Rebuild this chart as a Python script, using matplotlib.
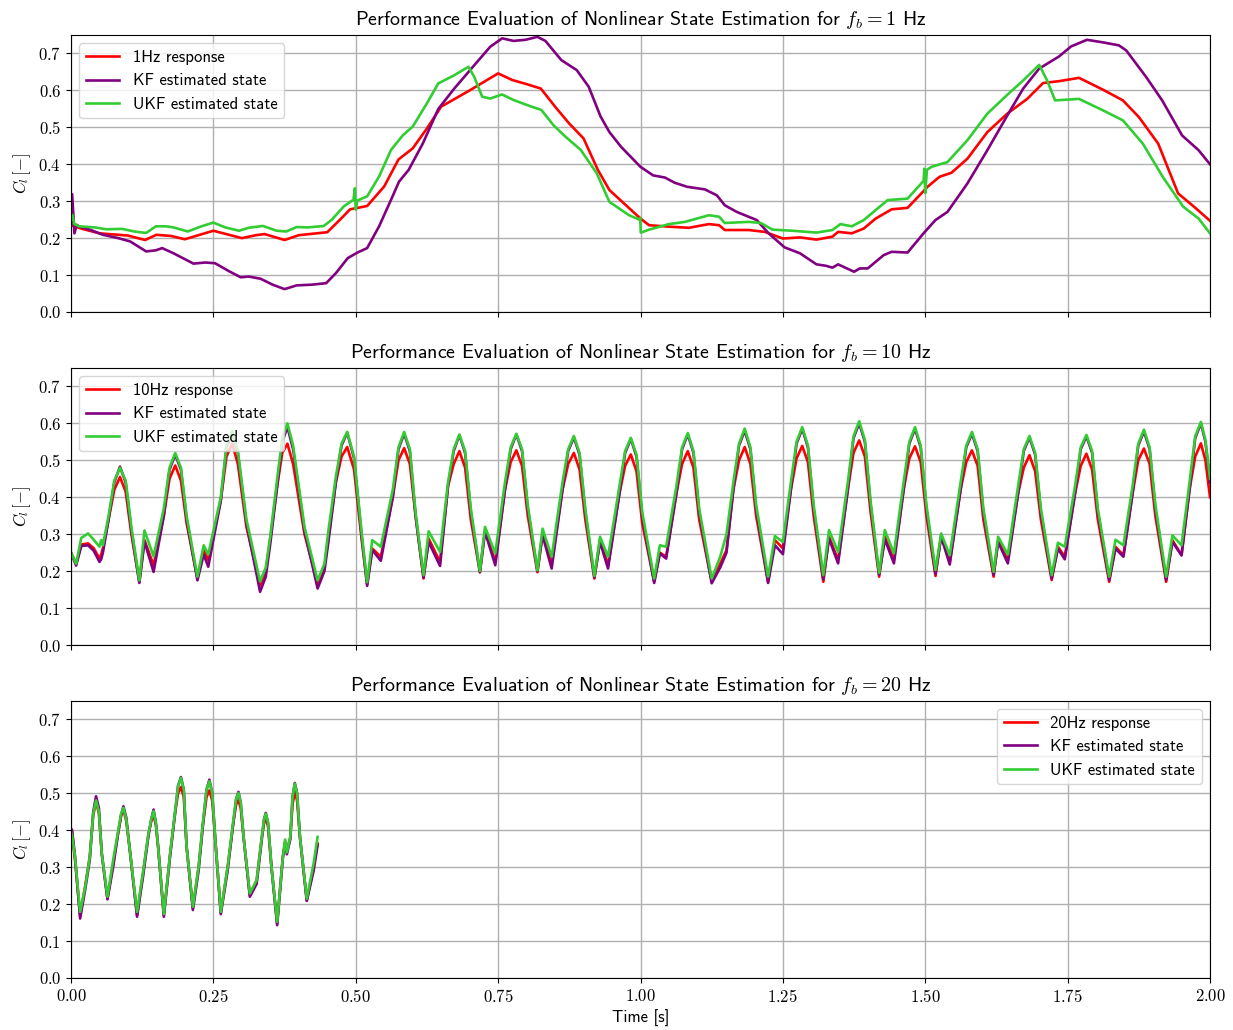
import matplotlib
matplotlib.use("Agg")
import matplotlib.pyplot as plt
from matplotlib.ticker import FuncFormatter

plt.rcParams['mathtext.fontset'] = 'cm'
plt.rcParams['font.family'] = ['cmss10', 'DejaVu Sans']
plt.rcParams['axes.unicode_minus'] = False

# ---------------- Panel 1 : f_b = 1 Hz ----------------
p1_red_t = [0.0, 0.02, 0.05, 0.1, 0.13, 0.15, 0.175, 0.2, 0.25, 0.3, 0.325, 0.34, 0.375, 0.4, 0.45,
            0.475, 0.49, 0.52, 0.55, 0.575, 0.6, 0.625, 0.65, 0.7, 0.75, 0.775, 0.8, 0.825, 0.85,
            0.875, 0.9, 0.925, 0.9455, 1.0, 1.015, 1.05, 1.085, 1.12, 1.138, 1.148, 1.19, 1.218,
            1.25, 1.28, 1.309, 1.337, 1.347, 1.371, 1.392, 1.413, 1.441, 1.469, 1.49, 1.504, 1.525,
            1.546, 1.574, 1.609, 1.644, 1.679, 1.707, 1.735, 1.77, 1.812, 1.847, 1.875, 1.909,
            1.944, 1.972, 2.0]
p1_red = [0.235, 0.225, 0.213, 0.207, 0.195, 0.209, 0.206, 0.197, 0.22, 0.20, 0.208, 0.211, 0.195,
          0.208, 0.216, 0.254, 0.278, 0.287, 0.34, 0.413, 0.443, 0.497, 0.556, 0.60, 0.646, 0.628,
          0.617, 0.605, 0.556, 0.51, 0.47, 0.385, 0.33, 0.253, 0.235, 0.231, 0.228, 0.238, 0.235,
          0.222, 0.222, 0.217, 0.199, 0.202, 0.196, 0.204, 0.217, 0.213, 0.226, 0.253, 0.278,
          0.282, 0.316, 0.339, 0.366, 0.377, 0.415, 0.487, 0.537, 0.577, 0.62, 0.625, 0.634,
          0.602, 0.573, 0.528, 0.456, 0.321, 0.285, 0.247]

p1_kf_t = [0.0, 0.002, 0.006, 0.01, 0.014, 0.035, 0.056, 0.083, 0.104, 0.132, 0.149, 0.16, 0.18,
           0.215, 0.236, 0.253, 0.278, 0.298, 0.312, 0.333, 0.354, 0.375, 0.396, 0.423, 0.448,
           0.465, 0.486, 0.503, 0.52, 0.541, 0.562, 0.576, 0.593, 0.618, 0.645, 0.673, 0.708,
           0.736, 0.757, 0.777, 0.798, 0.819, 0.833, 0.861, 0.888, 0.909, 0.93, 0.9455, 0.966,
           1.0, 1.022, 1.043, 1.06, 1.082, 1.113, 1.134, 1.148, 1.169, 1.204, 1.225, 1.253, 1.28,
           1.309, 1.326, 1.337, 1.347, 1.375, 1.385, 1.399, 1.427, 1.441, 1.469, 1.497, 1.518,
           1.539, 1.574, 1.609, 1.644, 1.672, 1.7, 1.735, 1.756, 1.784, 1.812, 1.84, 1.853,
           1.888, 1.916, 1.951, 1.98, 2.0]
p1_kf = [0.24, 0.319, 0.213, 0.236, 0.232, 0.222, 0.209, 0.2, 0.191, 0.164, 0.167, 0.173, 0.159,
         0.131, 0.134, 0.132, 0.11, 0.094, 0.096, 0.09, 0.074, 0.062, 0.072, 0.074, 0.078, 0.105,
         0.146, 0.161, 0.173, 0.232, 0.304, 0.353, 0.385, 0.457, 0.55, 0.605, 0.668, 0.718,
         0.741, 0.734, 0.737, 0.745, 0.734, 0.682, 0.655, 0.61, 0.529, 0.487, 0.447, 0.393,
         0.37, 0.364, 0.35, 0.339, 0.332, 0.316, 0.289, 0.271, 0.249, 0.213, 0.175, 0.159,
         0.129, 0.125, 0.12, 0.129, 0.109, 0.118, 0.118, 0.154, 0.163, 0.161, 0.213, 0.249,
         0.271, 0.348, 0.438, 0.532, 0.605, 0.659, 0.692, 0.719, 0.737, 0.73, 0.722, 0.708,
         0.636, 0.573, 0.478, 0.438, 0.40]

p1_ukf_t = [0.0, 0.002, 0.006, 0.014, 0.042, 0.062, 0.09, 0.111, 0.132, 0.149, 0.167, 0.18, 0.205,
            0.229, 0.25, 0.271, 0.295, 0.312, 0.337, 0.361, 0.378, 0.396, 0.416, 0.444, 0.458,
            0.479, 0.496, 0.4985, 0.5, 0.503, 0.52, 0.541, 0.562, 0.583, 0.6, 0.625, 0.645,
            0.673, 0.698, 0.708, 0.722, 0.736, 0.757, 0.777, 0.805, 0.826, 0.847, 0.868, 0.895,
            0.923, 0.9455, 0.98, 0.998, 0.9995, 1.0005, 1.015, 1.05, 1.078, 1.12, 1.138, 1.148,
            1.19, 1.211, 1.232, 1.267, 1.309, 1.337, 1.351, 1.371, 1.392, 1.413, 1.434, 1.469,
            1.497, 1.4985, 1.5, 1.503, 1.511, 1.539, 1.574, 1.609, 1.644, 1.672, 1.7, 1.714,
            1.728, 1.77, 1.812, 1.847, 1.882, 1.917, 1.953, 1.98, 2.0]
p1_ukf = [0.25, 0.263, 0.238, 0.232, 0.229, 0.224, 0.225, 0.218, 0.214, 0.232, 0.232, 0.229, 0.218,
          0.232, 0.242, 0.229, 0.22, 0.228, 0.233, 0.22, 0.218, 0.23, 0.229, 0.233, 0.25, 0.286,
          0.304, 0.335, 0.277, 0.302, 0.313, 0.367, 0.439, 0.479, 0.502, 0.565, 0.619, 0.641,
          0.664, 0.637, 0.583, 0.578, 0.589, 0.574, 0.558, 0.547, 0.506, 0.475, 0.439, 0.376,
          0.298, 0.262, 0.25, 0.255, 0.215, 0.223, 0.238, 0.244, 0.262, 0.258, 0.241, 0.244,
          0.241, 0.223, 0.22, 0.215, 0.222, 0.238, 0.232, 0.249, 0.276, 0.303, 0.307, 0.355,
          0.388, 0.322, 0.385, 0.393, 0.406, 0.465, 0.537, 0.588, 0.627, 0.669, 0.627, 0.573,
          0.577, 0.546, 0.519, 0.456, 0.366, 0.285, 0.253, 0.213]

# ---------------- Panel 2 : f_b = 10 Hz ----------------
p2_t = [0.0, 0.009, 0.018, 0.03, 0.04, 0.05, 0.053, 0.056, 0.066, 0.076, 0.086, 0.096, 0.106,
        0.12, 0.129, 0.145, 0.163, 0.173, 0.183, 0.193, 0.203,
        0.222, 0.233, 0.241, 0.263, 0.273, 0.283, 0.293, 0.308,
        0.332, 0.342, 0.35, 0.362, 0.371, 0.38, 0.39, 0.41,
        0.433, 0.445, 0.452, 0.465, 0.475, 0.485, 0.497, 0.51,
        0.52, 0.529, 0.544, 0.565, 0.575, 0.585, 0.595, 0.605,
        0.619, 0.628, 0.648, 0.662, 0.672, 0.682, 0.692, 0.702,
        0.718, 0.727, 0.745, 0.762, 0.772, 0.782, 0.792, 0.802,
        0.819, 0.828, 0.844, 0.863, 0.873, 0.883, 0.893, 0.903,
        0.919, 0.929, 0.943, 0.963, 0.973, 0.983, 0.993, 1.003,
        1.024, 1.034, 1.045, 1.063, 1.073, 1.083, 1.093, 1.103,
        1.125, 1.14, 1.151, 1.163, 1.173, 1.183, 1.193, 1.203,
        1.224, 1.236, 1.25, 1.264, 1.274, 1.284, 1.294, 1.304,
        1.321, 1.331, 1.347, 1.364, 1.374, 1.384, 1.394, 1.404,
        1.419, 1.429, 1.445, 1.462, 1.472, 1.482, 1.492, 1.502,
        1.518, 1.528, 1.543, 1.562, 1.572, 1.582, 1.592, 1.602,
        1.62, 1.628, 1.645, 1.663, 1.673, 1.683, 1.693, 1.703,
        1.722, 1.733, 1.745, 1.763, 1.773, 1.783, 1.793, 1.803,
        1.823, 1.834, 1.848, 1.864, 1.874, 1.884, 1.894, 1.904,
        1.923, 1.934, 1.95, 1.964, 1.974, 1.984, 1.992, 2.0]
p2_red = [0.25, 0.22, 0.272, 0.275, 0.262, 0.234, 0.245, 0.262, 0.34, 0.42, 0.455, 0.415, 0.30,
          0.171, 0.284, 0.216, 0.35, 0.45, 0.486, 0.445, 0.33,
          0.18, 0.257, 0.23, 0.392, 0.51, 0.545, 0.49, 0.32,
          0.162, 0.2, 0.29, 0.43, 0.52, 0.545, 0.49, 0.30,
          0.167, 0.212, 0.29, 0.44, 0.51, 0.536, 0.475, 0.29,
          0.165, 0.261, 0.239, 0.40, 0.50, 0.533, 0.49, 0.35,
          0.18, 0.288, 0.225, 0.43, 0.49, 0.525, 0.48, 0.34,
          0.197, 0.311, 0.225, 0.42, 0.495, 0.527, 0.485, 0.35,
          0.197, 0.302, 0.221, 0.42, 0.49, 0.52, 0.475, 0.34,
          0.18, 0.284, 0.216, 0.41, 0.485, 0.516, 0.47, 0.33,
          0.171, 0.25, 0.239, 0.41, 0.49, 0.525, 0.48, 0.34,
          0.171, 0.22, 0.257, 0.42, 0.50, 0.536, 0.49, 0.35,
          0.171, 0.284, 0.262, 0.42, 0.505, 0.539, 0.495, 0.35,
          0.171, 0.293, 0.23, 0.42, 0.52, 0.554, 0.51, 0.36,
          0.185, 0.293, 0.23, 0.42, 0.505, 0.538, 0.495, 0.35,
          0.187, 0.298, 0.225, 0.42, 0.495, 0.527, 0.485, 0.34,
          0.185, 0.284, 0.23, 0.41, 0.48, 0.514, 0.47, 0.34,
          0.176, 0.266, 0.239, 0.41, 0.485, 0.518, 0.475, 0.34,
          0.171, 0.266, 0.243, 0.41, 0.50, 0.532, 0.49, 0.35,
          0.171, 0.284, 0.243, 0.42, 0.51, 0.546, 0.50, 0.40]
p2_kf = [0.25, 0.215, 0.268, 0.27, 0.255, 0.225, 0.232, 0.25, 0.34, 0.44, 0.483, 0.44, 0.31,
         0.168, 0.28, 0.198, 0.35, 0.475, 0.515, 0.475, 0.34,
         0.175, 0.245, 0.212, 0.39, 0.535, 0.575, 0.52, 0.33,
         0.144, 0.185, 0.275, 0.43, 0.55, 0.59, 0.53, 0.31,
         0.153, 0.2, 0.28, 0.44, 0.54, 0.575, 0.505, 0.30,
         0.16, 0.257, 0.228, 0.40, 0.53, 0.572, 0.525, 0.35,
         0.183, 0.279, 0.214, 0.43, 0.525, 0.568, 0.52, 0.36,
         0.197, 0.306, 0.216, 0.42, 0.53, 0.57, 0.525, 0.37,
         0.2, 0.297, 0.207, 0.42, 0.525, 0.562, 0.515, 0.36,
         0.183, 0.279, 0.207, 0.41, 0.52, 0.558, 0.51, 0.35,
         0.168, 0.248, 0.234, 0.41, 0.53, 0.57, 0.52, 0.36,
         0.167, 0.21, 0.25, 0.42, 0.54, 0.58, 0.53, 0.37,
         0.168, 0.27, 0.246, 0.42, 0.545, 0.585, 0.535, 0.37,
         0.178, 0.288, 0.221, 0.42, 0.56, 0.60, 0.55, 0.38,
         0.19, 0.286, 0.221, 0.42, 0.545, 0.585, 0.535, 0.37,
         0.192, 0.293, 0.218, 0.42, 0.535, 0.572, 0.525, 0.36,
         0.19, 0.279, 0.221, 0.41, 0.525, 0.562, 0.515, 0.36,
         0.18, 0.261, 0.232, 0.41, 0.53, 0.565, 0.52, 0.36,
         0.176, 0.261, 0.239, 0.41, 0.54, 0.578, 0.53, 0.37,
         0.176, 0.279, 0.243, 0.42, 0.56, 0.60, 0.55, 0.44]
p2_ukf = [0.25, 0.22, 0.29, 0.302, 0.285, 0.266, 0.284, 0.27, 0.35, 0.445, 0.48, 0.445, 0.32,
          0.175, 0.31, 0.24, 0.37, 0.48, 0.52, 0.48, 0.35,
          0.185, 0.27, 0.245, 0.40, 0.54, 0.58, 0.525, 0.34,
          0.172, 0.21, 0.295, 0.45, 0.56, 0.60, 0.54, 0.32,
          0.175, 0.22, 0.31, 0.455, 0.545, 0.577, 0.51, 0.31,
          0.17, 0.284, 0.266, 0.42, 0.535, 0.577, 0.53, 0.36,
          0.189, 0.308, 0.252, 0.44, 0.53, 0.57, 0.525, 0.37,
          0.2, 0.32, 0.248, 0.44, 0.535, 0.572, 0.53, 0.38,
          0.202, 0.315, 0.239, 0.44, 0.53, 0.566, 0.52, 0.37,
          0.187, 0.293, 0.239, 0.43, 0.525, 0.561, 0.515, 0.36,
          0.18, 0.27, 0.266, 0.43, 0.535, 0.574, 0.525, 0.37,
          0.18, 0.239, 0.30, 0.44, 0.545, 0.586, 0.535, 0.38,
          0.185, 0.295, 0.279, 0.44, 0.55, 0.59, 0.54, 0.38,
          0.189, 0.311, 0.252, 0.44, 0.565, 0.606, 0.555, 0.39,
          0.195, 0.311, 0.248, 0.44, 0.55, 0.59, 0.54, 0.38,
          0.203, 0.302, 0.243, 0.44, 0.54, 0.577, 0.53, 0.37,
          0.198, 0.293, 0.245, 0.43, 0.53, 0.566, 0.52, 0.37,
          0.189, 0.277, 0.266, 0.43, 0.535, 0.569, 0.525, 0.37,
          0.185, 0.285, 0.27, 0.43, 0.545, 0.583, 0.535, 0.38,
          0.185, 0.297, 0.27, 0.44, 0.565, 0.604, 0.555, 0.45]

# ---------------- Panel 3 : f_b = 20 Hz ----------------
p3_t = [0.0, 0.002, 0.007, 0.016, 0.025, 0.033, 0.039, 0.044, 0.049, 0.054, 0.064, 0.074, 0.083,
        0.088, 0.092, 0.097, 0.104, 0.116, 0.127, 0.136, 0.141, 0.145, 0.149, 0.153, 0.163,
        0.174, 0.183, 0.188, 0.193, 0.198, 0.203, 0.214, 0.224, 0.232, 0.238, 0.243, 0.248,
        0.253, 0.263, 0.275, 0.285, 0.29, 0.294, 0.298, 0.303, 0.314, 0.326, 0.335, 0.339,
        0.342, 0.346, 0.352, 0.362, 0.372, 0.376, 0.379, 0.385, 0.389, 0.393, 0.397, 0.402,
        0.414, 0.426, 0.433]
p3_red = [0.40, 0.39, 0.32, 0.17, 0.25, 0.33, 0.44, 0.477, 0.445, 0.337, 0.215, 0.31, 0.395,
          0.44, 0.456, 0.425, 0.337, 0.17, 0.29, 0.39, 0.425, 0.44, 0.415, 0.355, 0.17,
          0.335, 0.45, 0.50, 0.517, 0.49, 0.355, 0.19, 0.30, 0.42, 0.49, 0.508, 0.48,
          0.382, 0.176, 0.30, 0.42, 0.47, 0.481, 0.46, 0.382, 0.225, 0.265, 0.38, 0.42,
          0.432, 0.41, 0.301, 0.148, 0.33, 0.37, 0.345, 0.38, 0.47, 0.504, 0.48, 0.382,
          0.21, 0.30, 0.364]
p3_kf = [0.405, 0.40, 0.33, 0.161, 0.24, 0.32, 0.45, 0.492, 0.46, 0.337, 0.213, 0.30, 0.395,
         0.44, 0.465, 0.435, 0.337, 0.166, 0.28, 0.385, 0.43, 0.456, 0.42, 0.355, 0.166,
         0.33, 0.45, 0.52, 0.544, 0.51, 0.355, 0.184, 0.29, 0.42, 0.51, 0.537, 0.50,
         0.382, 0.173, 0.29, 0.42, 0.485, 0.504, 0.475, 0.382, 0.22, 0.255, 0.375, 0.43,
         0.447, 0.42, 0.30, 0.143, 0.325, 0.365, 0.335, 0.375, 0.49, 0.528, 0.50, 0.382,
         0.209, 0.29, 0.36]
p3_ukf = [0.395, 0.385, 0.328, 0.179, 0.247, 0.328, 0.445, 0.481, 0.45, 0.337, 0.22, 0.319, 0.40,
          0.445, 0.461, 0.43, 0.337, 0.179, 0.292, 0.391, 0.43, 0.452, 0.42, 0.355, 0.173,
          0.337, 0.454, 0.52, 0.542, 0.51, 0.355, 0.193, 0.30, 0.427, 0.51, 0.533, 0.50,
          0.382, 0.179, 0.30, 0.427, 0.485, 0.501, 0.475, 0.382, 0.229, 0.265, 0.382, 0.43,
          0.445, 0.42, 0.301, 0.152, 0.328, 0.375, 0.34, 0.382, 0.49, 0.526, 0.50, 0.382,
          0.215, 0.31, 0.382]

freqs = [1, 10, 20]
legend_locs = ['upper left', 'upper left', 'upper right']
x_ticks = [0.0, 0.25, 0.5, 0.75, 1.0, 1.25, 1.5, 1.75, 2.0]
y_ticks = [0.0, 0.1, 0.2, 0.3, 0.4, 0.5, 0.6, 0.7]

panels = [
    ((p1_red_t, p1_red), (p1_kf_t, p1_kf), (p1_ukf_t, p1_ukf)),
    ((p2_t, p2_red), (p2_t, p2_kf), (p2_t, p2_ukf)),
    ((p3_t, p3_red), (p3_t, p3_kf), (p3_t, p3_ukf)),
]

W, H = 1233, 1030
fig = plt.figure(figsize=(W / 100, H / 100), dpi=100)
left = 71 / W
width = (1210 - 71) / W
tops = [35, 368, 701]
axh = 277

mathfmt_x = FuncFormatter(lambda v, p: r'$%.2f$' % v)
mathfmt_y = FuncFormatter(lambda v, p: r'$%.1f$' % v)

for i, (freq, loc, series) in enumerate(zip(freqs, legend_locs, panels)):
    bottom = 1 - (tops[i] + axh) / H
    ax = fig.add_axes([left, bottom, width, axh / H])
    (rt, rv), (kt, kv), (ut, uv) = series
    ax.plot(rt, rv, color='red', lw=1.9, label='%dHz response' % freq)
    ax.plot(kt, kv, color='purple', lw=1.9, label='KF estimated state')
    ax.plot(ut, uv, color='limegreen', lw=1.9, label='UKF estimated state')
    ax.set_xlim(0, 2.0)
    ax.set_ylim(0, 0.75)
    ax.set_xticks(x_ticks)
    ax.set_yticks(y_ticks)
    ax.xaxis.set_major_formatter(mathfmt_x)
    ax.yaxis.set_major_formatter(mathfmt_y)
    ax.tick_params(labelsize=12)
    ax.grid(True, color='#b0b0b0', lw=1.0)
    ax.set_axisbelow(True)
    ax.set_ylabel(r'$C_l\,[-]$', fontsize=12)
    ax.set_title(r'Performance Evaluation of Nonlinear State Estimation for $f_b = %d$ Hz' % freq,
                 fontsize=14.4, pad=7)
    leg = ax.legend(loc=loc, fontsize=12, framealpha=0.8)
    for line in leg.get_lines():
        line.set_linewidth(1.9)
    if i < 2:
        ax.tick_params(labelbottom=False)
    else:
        ax.set_xlabel('Time [s]', fontsize=12)

fig.savefig('out.png', dpi=100)
